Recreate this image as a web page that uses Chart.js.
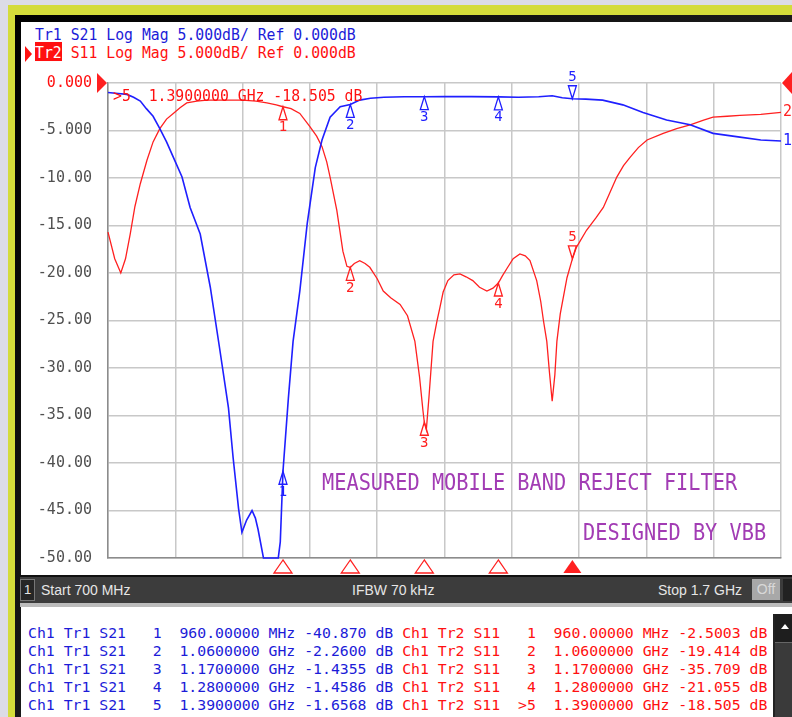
<!DOCTYPE html>
<html>
<head>
  <title>Band Reject Filter Measurement</title>
  <script src="https://cdn.jsdelivr.net/npm/chart.js@4.4.0/dist/chart.umd.min.js"></script>
  <style>
    body { margin: 0; width: 792px; height: 717px; overflow: hidden; background: #dcdce6; position: relative; }
    .abs { position: absolute; }
    .mono { font-family: 'DejaVu Sans Mono', monospace; white-space: pre; }
    #yellow { left: 8px; top: 5px; right: 0; bottom: 0; background: #d4dc3a; }
    #dark { left: 15px; top: 15px; right: 0; bottom: 0; background: linear-gradient(135deg, #000 0%, #333 100%); }
    #white { left: 21px; top: 22px; right: 0; bottom: 0; background: #fff; }
    #chart { left: 0; top: 0; }
    .hdr { font-size: 14.8px; line-height: 17px; transform: scaleY(1.12); transform-origin: left center; }
    .note { font-size: 20.3px; line-height: 20px; color: #a23cb4; transform: scaleY(1.15); transform-origin: left center; }
    #status { left: 20px; top: 575px; right: 0; height: 26px; background: #3c3c3c; border-top: 2px solid #111; }
    .st { font-family: 'Liberation Sans', Arial, sans-serif; font-size: 14px; color: #e6e6e6; top: 5px; white-space: pre; }
    #sep { left: 20px; top: 603px; right: 0; height: 4px; background: #bcbcbc; }
    #table { left: 28px; top: 624px; font-size: 14.8px; line-height: 18px; }
    #scroll { left: 773px; top: 614px; right: 0; bottom: 0; background: #3a3a3a; border-left: 2px solid #222; }
  </style>
</head>
<body>
  <div id="yellow" class="abs"></div>
  <div id="dark" class="abs"></div>
  <div id="white" class="abs"></div>

  <div class="abs mono hdr" style="left:35px; top:25px; color:#1c1cd8;">Tr1 S21 Log Mag 5.000dB/ Ref 0.000dB</div>
  <div class="abs" style="left:25px; top:46px; width:0; height:0; border-top:8px solid transparent; border-bottom:8px solid transparent; border-left:7px solid #ff1010;"></div>
  <div class="abs mono hdr" style="left:35px; top:43px; color:#ff1010;"><span style="background:#ff1010; color:#fff;">Tr2</span> S11 Log Mag 5.000dB/ Ref 0.000dB</div>

  <canvas id="chart" class="abs" width="792" height="583"></canvas>

  <div id="readout" class="abs mono hdr" style="left:113px; top:86px; color:#ff1010;"></div>
  <div class="abs mono note" style="left:322px; top:472px;">MEASURED MOBILE BAND REJECT FILTER</div>
  <div class="abs mono note" style="left:583px; top:522px;">DESIGNED BY VBB</div>

  <div id="status" class="abs">
    <div class="abs st" style="left:0; top:2px; width:13px; height:20px; background:#262626; border:1px solid #777; text-align:center; line-height:20px; font-size:13px;">1</div>
    <div id="startTxt" class="abs st" style="left:21px;"></div>
    <div class="abs st" style="left:332px;">IFBW 70 kHz</div>
    <div id="stopTxt" class="abs st" style="right:50px;"></div>
    <div class="abs st" style="left:732px; top:2px; width:28px; height:21px; background:#a8a8a8; color:#d8d8d8; text-align:center; line-height:21px;">Off</div>
    <div class="abs" style="left:763px; top:2px; right:0; height:22px; background:#222;"></div>
  </div>
  <div id="sep" class="abs"></div>
  <div id="table" class="abs mono"></div>
  <div id="scroll" class="abs">
    <div class="abs" style="left:0; top:0; right:0; height:28px; background:#1e1e1e; border-bottom:1px solid #666;"></div>
    <div class="abs" style="left:6px; top:10px; width:0; height:0; border-left:4px solid transparent; border-right:4px solid transparent; border-bottom:5px solid #fff;"></div>
  </div>

  <script>
    // sweep range (MHz)
    const startMHz = 700;
    const stopMHz = 1700;

    // Tr1 S21 trace
    const s21Freq = [700, 715, 728, 738, 748, 757, 767, 777, 787, 797, 810, 822, 837, 852, 866, 879, 886, 894, 899, 906, 914, 919, 923, 931, 953, 956, 960, 968, 975, 985, 996, 1008, 1018, 1030, 1045, 1060, 1074, 1090, 1110, 1140, 1170, 1200, 1240, 1280, 1310, 1340, 1360, 1375, 1390, 1410, 1435, 1465, 1495, 1530, 1565, 1599, 1639, 1670, 1700];
    const s21Db = [-1.0, -1.1, -1.2, -1.5, -1.9, -2.7, -3.5, -4.8, -6.2, -7.8, -9.9, -13.1, -15.9, -21.5, -28.0, -34.2, -39.5, -44.8, -47.3, -46.0, -45.0, -45.8, -47.0, -50, -50, -48.3, -40.87, -33.2, -27.2, -21.9, -14.8, -8.9, -6.0, -3.6, -2.5, -2.26, -1.8, -1.6, -1.5, -1.45, -1.44, -1.43, -1.43, -1.46, -1.5, -1.45, -1.35, -1.55, -1.66, -1.7, -1.8, -2.3, -3.1, -3.9, -4.4, -5.3, -5.7, -6.0, -6.1];

    // Tr2 S11 trace
    const s11Freq = [700, 710, 719, 726, 733, 740, 748, 758, 767, 777, 787, 797, 807, 817, 832, 847, 870, 900, 920, 936, 950, 960, 972, 985, 1000, 1010, 1018, 1025, 1030, 1040, 1049, 1055, 1060, 1066, 1074, 1082, 1089, 1100, 1109, 1120, 1134, 1145, 1156, 1163, 1168, 1170, 1173, 1177, 1183, 1189, 1193, 1198, 1205, 1214, 1223, 1232, 1242, 1252, 1263, 1272, 1280, 1286, 1293, 1302, 1312, 1320, 1327, 1337, 1343, 1347, 1352, 1356, 1360, 1364, 1367, 1372, 1382, 1390, 1396, 1411, 1425, 1436, 1446, 1456, 1466, 1476, 1488, 1501, 1525, 1545, 1565, 1585, 1599, 1620, 1639, 1670, 1700];
    const s11Db = [-15.7, -18.5, -20.0, -18.5, -15.9, -13.0, -10.6, -8.1, -6.2, -4.8, -3.8, -3.2, -2.6, -2.1, -1.9, -1.8, -1.8, -1.8, -1.9, -2.1, -2.3, -2.5, -2.7, -3.2, -4.6, -5.6, -6.7, -8.3, -9.9, -13.4, -17.7, -19.3, -19.41, -19.0, -18.7, -19.0, -19.4, -20.6, -21.9, -22.6, -23.3, -24.5, -27.2, -31.0, -34.5, -35.71, -36.5, -33.0, -27.2, -25.0, -23.7, -22.0, -20.8, -20.2, -20.1, -20.4, -20.8, -21.5, -21.9, -21.6, -21.06, -20.3, -19.5, -18.5, -18.0, -18.2, -18.7, -20.8, -23.0, -25.0, -27.2, -30.5, -33.5, -30.7, -27.2, -24.3, -20.5, -18.51, -17.3, -15.5, -14.2, -13.1, -11.5, -9.9, -8.7, -7.8, -6.8, -6.0, -5.3, -4.8, -4.4, -3.9, -3.6, -3.5, -3.4, -3.3, -3.1];

    // marker table
    const markerFreqs = [960, 1060, 1170, 1280, 1390];
    const s21Marker = [-40.870, -2.2600, -1.4355, -1.4586, -1.6568];
    const s11Marker = [-2.5003, -19.414, -35.709, -21.055, -18.505];
    const activeMarker = 5;

    // y tick labels, top to bottom
    const yTickLabels = ['0.000', '-5.000', '-10.00', '-15.00', '-20.00', '-25.00', '-30.00', '-35.00', '-40.00', '-45.00', '-50.00'];

    const blue = '#1f1fff';
    const red = '#ff2020';

    const toPoints = (xs, ys) => xs.map((x, i) => ({ x: x, y: ys[i] }));
    const fmtFreq = f => f < 1000 ? f.toFixed(5) + ' MHz' : (f / 1000).toFixed(7) + ' GHz';

    // text parts
    document.getElementById('startTxt').textContent = 'Start ' + startMHz + ' MHz';
    document.getElementById('stopTxt').textContent = 'Stop ' + (stopMHz / 1000) + ' GHz';
    const ai = activeMarker - 1;
    document.getElementById('readout').textContent =
      '>' + activeMarker + '  ' + fmtFreq(markerFreqs[ai]) + ' ' + s11Marker[ai].toPrecision(5) + ' dB';

    const table = document.getElementById('table');
    markerFreqs.forEach((f, i) => {
      const row = document.createElement('div');
      const b = document.createElement('span');
      b.style.color = '#1c1cd8';
      b.textContent = 'Ch1 Tr1 S21   ' + (i + 1) + '  ' + fmtFreq(f) + ' ' + s21Marker[i].toPrecision(5) + ' dB';
      const r = document.createElement('span');
      r.style.color = '#ff1010';
      const lab = (i + 1 === activeMarker) ? '>' + (i + 1) : ' ' + (i + 1);
      r.textContent = ' Ch1 Tr2 S11  ' + lab + '  ' + fmtFreq(f) + ' ' + s11Marker[i].toPrecision(5) + ' dB';
      row.appendChild(b);
      row.appendChild(r);
      table.appendChild(row);
    });

    // draws the marker glyphs, reference arrows and trace numbers
    const markerPlugin = {
      id: 'markers',
      afterDatasetsDraw(chart) {
        const ctx = chart.ctx;
        const xs = chart.scales.x;
        const ys = chart.scales.y;
        const area = chart.chartArea;
        ctx.save();
        ctx.lineWidth = 1.3;
        ctx.font = '14px "DejaVu Sans Mono"';
        ctx.textAlign = 'center';

        const glyph = (x, y, color, num, down) => {
          ctx.strokeStyle = color;
          ctx.fillStyle = color;
          const d = down ? -1 : 1;
          ctx.beginPath();
          ctx.moveTo(x, y);
          ctx.lineTo(x - 4, y + d * 13);
          ctx.lineTo(x + 4, y + d * 13);
          ctx.closePath();
          ctx.stroke();
          ctx.textBaseline = down ? 'bottom' : 'top';
          ctx.fillText(String(num), x, y + d * 14);
        };

        markerFreqs.forEach((f, i) => {
          const x = xs.getPixelForValue(f);
          const down = (i + 1 === activeMarker);
          glyph(x, ys.getPixelForValue(s21Marker[i]), blue, i + 1, down);
          glyph(x, ys.getPixelForValue(s11Marker[i]), red, i + 1, down);

          // marker position arrows under the grid
          ctx.strokeStyle = red;
          ctx.fillStyle = red;
          ctx.beginPath();
          ctx.moveTo(x, area.bottom + 2);
          ctx.lineTo(x - 9, area.bottom + 15);
          ctx.lineTo(x + 9, area.bottom + 15);
          ctx.closePath();
          if (down) ctx.fill(); else ctx.stroke();
        });

        // reference level arrows
        const y0 = ys.getPixelForValue(0);
        ctx.fillStyle = red;
        ctx.beginPath();
        ctx.moveTo(area.left - 1, y0);
        ctx.lineTo(area.left - 11, y0 - 10);
        ctx.lineTo(area.left - 11, y0 + 10);
        ctx.closePath();
        ctx.fill();
        ctx.beginPath();
        ctx.moveTo(area.right + 1, y0);
        ctx.lineTo(area.right + 12, y0 - 12);
        ctx.lineTo(area.right + 12, y0 + 12);
        ctx.closePath();
        ctx.fill();

        // trace numbers at the right end
        ctx.textAlign = 'left';
        ctx.textBaseline = 'middle';
        ctx.font = '15px "DejaVu Sans Mono"';
        ctx.fillStyle = red;
        ctx.fillText('2', area.right + 2, ys.getPixelForValue(s11Db[s11Db.length - 1]));
        ctx.fillStyle = blue;
        ctx.fillText('1', area.right + 2, ys.getPixelForValue(s21Db[s21Db.length - 1]));
        ctx.restore();
      }
    };

    new Chart(document.getElementById('chart'), {
      type: 'line',
      data: {
        datasets: [
          {
            label: 'Tr1 S21',
            data: toPoints(s21Freq, s21Db),
            borderColor: blue,
            borderWidth: 1.6,
            pointRadius: 0,
            tension: 0,
            clip: 3
          },
          {
            label: 'Tr2 S11',
            data: toPoints(s11Freq, s11Db),
            borderColor: red,
            borderWidth: 1.3,
            pointRadius: 0,
            tension: 0,
            clip: 3
          }
        ]
      },
      options: {
        responsive: false,
        animation: false,
        devicePixelRatio: 1,
        layout: { padding: { top: 83, right: 11, left: 0, bottom: 0 } },
        plugins: {
          legend: { display: false },
          tooltip: { enabled: false }
        },
        scales: {
          x: {
            type: 'linear',
            min: startMHz,
            max: stopMHz,
            afterFit: s => { s.height = 13; },
            ticks: { stepSize: 100, display: false },
            grid: { color: '#c8c8c8', lineWidth: 1.5, drawTicks: false },
            border: { color: '#8c8c8c', width: 1.5 }
          },
          y: {
            min: -50,
            max: 0,
            afterFit: s => { s.width = 108; },
            ticks: {
              stepSize: 5,
              padding: 16,
              font: { family: 'DejaVu Sans Mono', size: 15 },
              color: c => c.tick.value === 0 ? '#ff1010' : '#505050',
              callback: v => yTickLabels[Math.round(-v / 5)]
            },
            grid: { color: '#c8c8c8', lineWidth: 1.5, drawTicks: false },
            border: { color: '#8c8c8c', width: 1.5 }
          }
        }
      },
      plugins: [markerPlugin]
    });
  </script>
</body>
</html>
